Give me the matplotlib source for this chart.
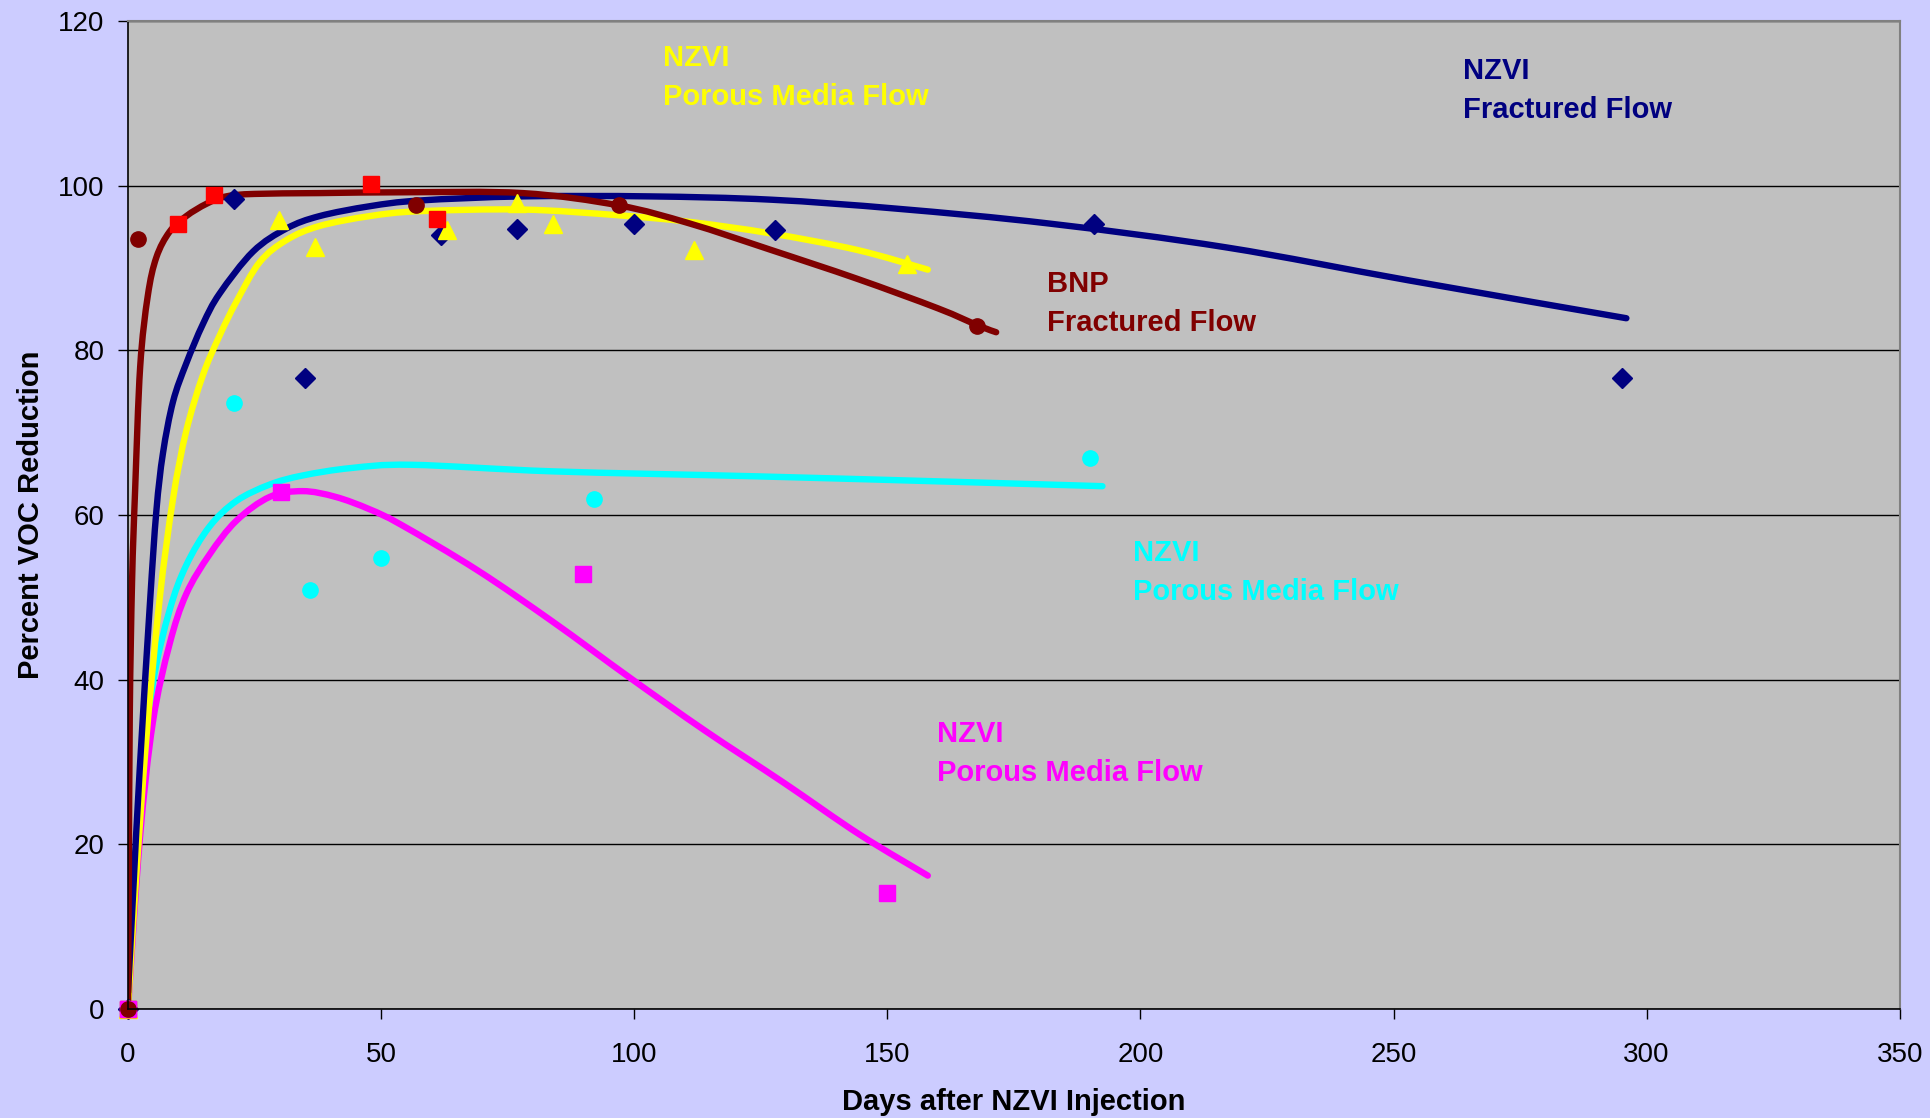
import numpy as np
import matplotlib
matplotlib.use("Agg")
import matplotlib.pyplot as plt
from matplotlib.path import Path
from matplotlib.patches import PathPatch

plt.rcParams['font.family'] = ['Liberation Sans', 'DejaVu Sans']

# measured points
navy_x = [0, 21, 35, 61.8, 76.9, 99.9, 127.9, 190.9, 295.1]
navy_y = [0, 98.4, 76.6, 94.0, 94.7, 95.3, 94.6, 95.4, 76.6]

yellow_x = [0, 29.8, 37, 63, 76.9, 83.9, 111.9, 153.9]
yellow_y = [0, 95.8, 92.6, 94.6, 97.9, 95.4, 92.2, 90.5]

red_x = [0, 9.95, 16.9, 48, 61]
red_y = [0, 95.3, 98.9, 100.2, 95.9]

brown_x = [0, 2.05, 56.9, 97, 167.8]
brown_y = [0, 93.5, 97.6, 97.6, 83.0]

cyan_x = [0, 20.9, 36, 50, 92, 190]
cyan_y = [0, 73.6, 50.9, 54.8, 62.0, 66.9]

magenta_x = [0, 30.2, 89.9, 149.9]
magenta_y = [0, 62.8, 52.8, 14.1]

# trend curves
brown_fit_x = [0, 0.15, 0.35, 0.8, 1.4, 2.4, 3.9, 5.6, 8.2, 11.5, 15.5, 19.4, 25, 38, 55,
               78, 97, 111, 127, 144, 160, 168, 171.5]
brown_fit_y = [0, 15, 36, 52, 63, 78, 86.6, 91.3, 94.4, 96.3, 97.8, 98.7, 99, 99.1, 99.2,
               99.1, 97.6, 95.4, 92.2, 88.7, 85.1, 83, 82.2]

navy_fit_x = [0, 1, 2.3, 4.3, 5.6, 6.9, 8.9, 11.5, 14.8, 18.1, 24.7, 31.3, 37.8, 47.7, 57.6,
              78, 103, 127, 152, 182, 217, 253, 296]
navy_fit_y = [2, 14, 29, 49, 60.5, 67.5, 73.8, 78.4, 83.2, 86.9, 92, 94.8, 96.3, 97.5, 98.2,
              98.7, 98.7, 98.3, 97.2, 95.4, 92.5, 88.5, 83.9]

yellow_fit_x = [0, 1.5, 3.6, 6.25, 8.9, 11.5, 14.8, 18.1, 21.4, 26, 31.3, 37.8, 47.7, 57.6,
                78, 97, 111, 127, 144, 158]
yellow_fit_y = [0, 15, 32.7, 49.8, 62, 70.2, 77, 81.8, 85.9, 90.7, 93.4, 95.1, 96.3, 96.9,
                97.1, 96.4, 95.6, 94.2, 92.2, 89.8]

cyan_fit_x = [0, 2.3, 4.9, 8.2, 11.5, 16.1, 21.4, 28, 34.5, 44, 56, 84, 124, 165, 192.5]
cyan_fit_y = [1, 25.9, 39.5, 48.4, 53.9, 58.6, 61.7, 63.7, 64.8, 65.7, 66.1, 65.3, 64.7, 64, 63.5]

magenta_fit_x = [0, 2.3, 4.9, 8.2, 11.5, 16.1, 21.4, 28, 34.5, 41, 47.7, 54, 69, 84, 99,
                 114, 129.5, 144.5, 158]
magenta_fit_y = [0, 20.4, 34.8, 44.3, 50.4, 55.2, 59.3, 62.2, 62.9, 62.2, 60.7, 58.8, 53.3,
                 47, 40.3, 33.8, 27.5, 21.2, 16.2]

x_ticks = [0, 50, 100, 150, 200, 250, 300, 350]
y_ticks = [0, 20, 40, 60, 80, 100, 120]

NAVY = '#000080'
YELLOW = '#FFFF00'
BROWN = '#800000'
RED = '#FF0000'
CYAN = '#00FFFF'
MAGENTA = '#FF00FF'


def smooth_line(ax, xs, ys, color, lw):
    # smoothed line like excel: bezier segments through the nodes
    p = np.column_stack([xs, ys]).astype(float)
    ext = np.vstack([p[0], p, p[-1]])
    verts = [p[0]]
    codes = [Path.MOVETO]
    for i in range(len(p) - 1):
        c1 = ext[i + 1] + (ext[i + 2] - ext[i]) / 6.0
        c2 = ext[i + 2] - (ext[i + 3] - ext[i + 1]) / 6.0
        verts += [c1, c2, p[i + 1]]
        codes += [Path.CURVE4] * 3
    patch = PathPatch(Path(verts, codes), facecolor='none', edgecolor=color, lw=lw,
                      capstyle='round', joinstyle='round', transform=ax.transData)
    ax.add_patch(patch)


fig = plt.figure(figsize=(19.31, 11.18), dpi=100, facecolor='#CCCCFF')
ax = fig.add_axes([0.0663, 0.0975, 0.9175, 0.8837])
ax.set_facecolor('#C0C0C0')

ax.set_xlim(0, 350)
ax.set_ylim(0, 120)
ax.set_xticks(x_ticks)
ax.set_yticks(y_ticks)
ax.yaxis.grid(True, color='black', linewidth=1)
ax.set_axisbelow(True)
ax.tick_params(direction='out', length=7, width=1, labelsize=20, color='black')
ax.tick_params(axis='x', pad=17)
ax.tick_params(axis='y', pad=10)
for s in ['top', 'right']:
    ax.spines[s].set_color('#808080')
    ax.spines[s].set_linewidth(1.5)
for s in ['left', 'bottom']:
    ax.spines[s].set_color('black')
    ax.spines[s].set_linewidth(1.2)

lw = 4.6
smooth_line(ax, cyan_fit_x, cyan_fit_y, CYAN, lw)
smooth_line(ax, magenta_fit_x, magenta_fit_y, MAGENTA, lw)
smooth_line(ax, yellow_fit_x, yellow_fit_y, YELLOW, lw)
smooth_line(ax, navy_fit_x, navy_fit_y, NAVY, lw)
smooth_line(ax, brown_fit_x, brown_fit_y, BROWN, lw)

ax.plot(navy_x, navy_y, 'D', color=NAVY, ms=10, ls='none', clip_on=False)
ax.plot(yellow_x, yellow_y, '^', color=YELLOW, ms=13, ls='none', clip_on=False)
ax.plot(red_x, red_y, 's', color=RED, ms=12, ls='none', clip_on=False)
ax.plot(cyan_x, cyan_y, 'o', color=CYAN, ms=11, ls='none', clip_on=False)
ax.plot(magenta_x, magenta_y, 's', color=MAGENTA, ms=12, ls='none', clip_on=False)
ax.plot(brown_x, brown_y, 'o', color=BROWN, ms=11, ls='none', clip_on=False)

tkw = dict(fontsize=21, fontweight='bold', va='top', ha='left', linespacing=1.5)
ax.text(105.6, 117.2, 'NZVI\nPorous Media Flow', color=YELLOW, **tkw)
ax.text(263.7, 115.6, 'NZVI\nFractured Flow', color=NAVY, **tkw)
ax.text(181.5, 89.7, 'BNP\nFractured Flow', color=BROWN, **tkw)
ax.text(198.5, 57.1, 'NZVI\nPorous Media Flow', color=CYAN, **tkw)
ax.text(159.8, 35.1, 'NZVI\nPorous Media Flow', color=MAGENTA, **tkw)

ax.set_xlabel('Days after NZVI Injection', fontsize=21, fontweight='bold', labelpad=14)
ax.set_ylabel('Percent VOC Reduction', fontsize=21, fontweight='bold', labelpad=9)

fig.savefig('out.png', dpi=100, facecolor=fig.get_facecolor())
